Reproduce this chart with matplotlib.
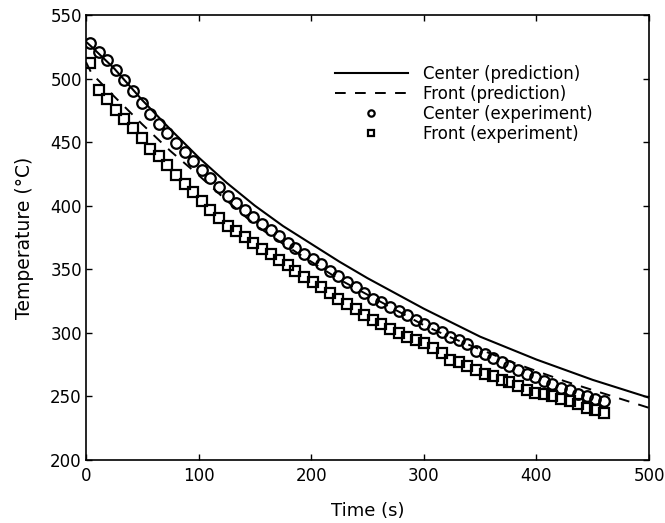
"""
enfriamiento_centro_frente.py
=============================

Curvas de enfriamiento: temperatura en el centro y en el frente de la pieza,
prediccion del modelo (lineas) contra medicion (marcadores).

Salida: out.png
"""

import matplotlib
matplotlib.use("Agg")
import matplotlib.pyplot as plt

plt.rcParams["font.family"] = ["DejaVu Sans"]

# ---------------- datos ----------------
# prediccion del modelo (s, degC)
T_PRED = [0, 5, 25, 50, 75, 100, 125, 150, 175, 200, 225, 250, 275, 300,
          325, 350, 375, 400, 425, 450, 475, 500]
CENTRO_PRED = [529, 525, 508, 483, 460, 438, 418, 400, 384, 370, 356, 343,
               331, 319, 308, 297, 288, 279, 271, 263, 256, 249]
FRENTE_PRED = [513, 504, 486, 464, 443, 424, 404, 385, 370, 356, 342, 330,
               318, 306, 296, 287, 278, 270, 262, 255, 248, 241]

# mediciones (termopares), mismo muestreo para centro y frente
T_EXP = [4, 12, 19, 27, 34, 42, 50, 57, 65, 72, 80, 88, 95, 103, 110, 118,
         126, 133, 141, 148, 156, 164, 171, 179, 186, 194, 202, 209, 217, 224,
         232, 240, 247, 255, 262, 270, 278, 285, 293, 300, 308, 316, 323, 331,
         338, 346, 354, 361, 369, 376, 384, 392, 399, 407, 414, 422, 430, 437,
         445, 452, 460]
CENTRO_EXP = [528, 521, 515, 507, 499, 490, 481, 472, 464, 457, 449, 442,
              435, 428, 422, 415, 408, 402, 397, 391, 386, 381, 376, 371,
              367, 362, 358, 354, 349, 345, 340, 336, 331, 327, 324, 320,
              317, 314, 310, 307, 304, 301, 297, 294, 291, 286, 283, 280,
              277, 274, 271, 268, 265, 262, 260, 257, 255, 252, 250, 248, 246]
FRENTE_EXP = [512, 491, 484, 475, 468, 461, 453, 445, 439, 432, 424, 417,
              411, 404, 397, 390, 384, 380, 375, 371, 366, 362, 357, 353,
              349, 344, 340, 336, 331, 327, 323, 319, 314, 310, 307, 303,
              300, 297, 294, 292, 288, 284, 279, 277, 274, 271, 268, 266,
              263, 261, 258, 255, 253, 252, 250, 248, 246, 244, 241, 239, 237]

X_TICKS = [0, 100, 200, 300, 400, 500]
Y_TICKS = [200, 250, 300, 350, 400, 450, 500, 550]


def main():
    fig = plt.figure(figsize=(6.65, 5.23), dpi=100)
    ax = fig.add_axes([0.1293, 0.1205, 0.8467, 0.8508])

    ax.plot(T_PRED, CENTRO_PRED, "k-", lw=1.5, label="Center (prediction)")
    ax.plot(T_PRED, FRENTE_PRED, "k", lw=1.4, ls=(0, (5.5, 4.8)),
            label="Front (prediction)")
    ax.plot(T_EXP, CENTRO_EXP, "o", ms=7.6, mfc="none", mec="k", mew=1.6,
            ls="none", label="Center (experiment)")
    ax.plot(T_EXP, FRENTE_EXP, "s", ms=6.8, mfc="none", mec="k", mew=1.6,
            ls="none", label="Front (experiment)")

    ax.set_xlim(0, 500)
    ax.set_ylim(200, 550)
    ax.set_xticks(X_TICKS)
    ax.set_yticks(Y_TICKS)
    ax.tick_params(direction="in", top=True, right=True, length=4,
                   width=1.0, labelsize=12)
    ax.tick_params(axis="x", pad=5)
    ax.tick_params(axis="y", pad=3)
    for s in ax.spines.values():
        s.set_linewidth(1.2)

    ax.set_xlabel("Time (s)", fontsize=13, labelpad=12)
    ax.set_ylabel("Temperature (\u00b0C)", fontsize=13.5, labelpad=12)

    ax.legend(loc="upper right", bbox_to_anchor=(0.9, 0.888),
              frameon=False, fontsize=12, handlelength=4.4,
              handletextpad=0.9, labelspacing=0.12, markerscale=0.6,
              borderpad=0, borderaxespad=0)

    fig.savefig("out.png", dpi=100)


if __name__ == "__main__":
    main()
